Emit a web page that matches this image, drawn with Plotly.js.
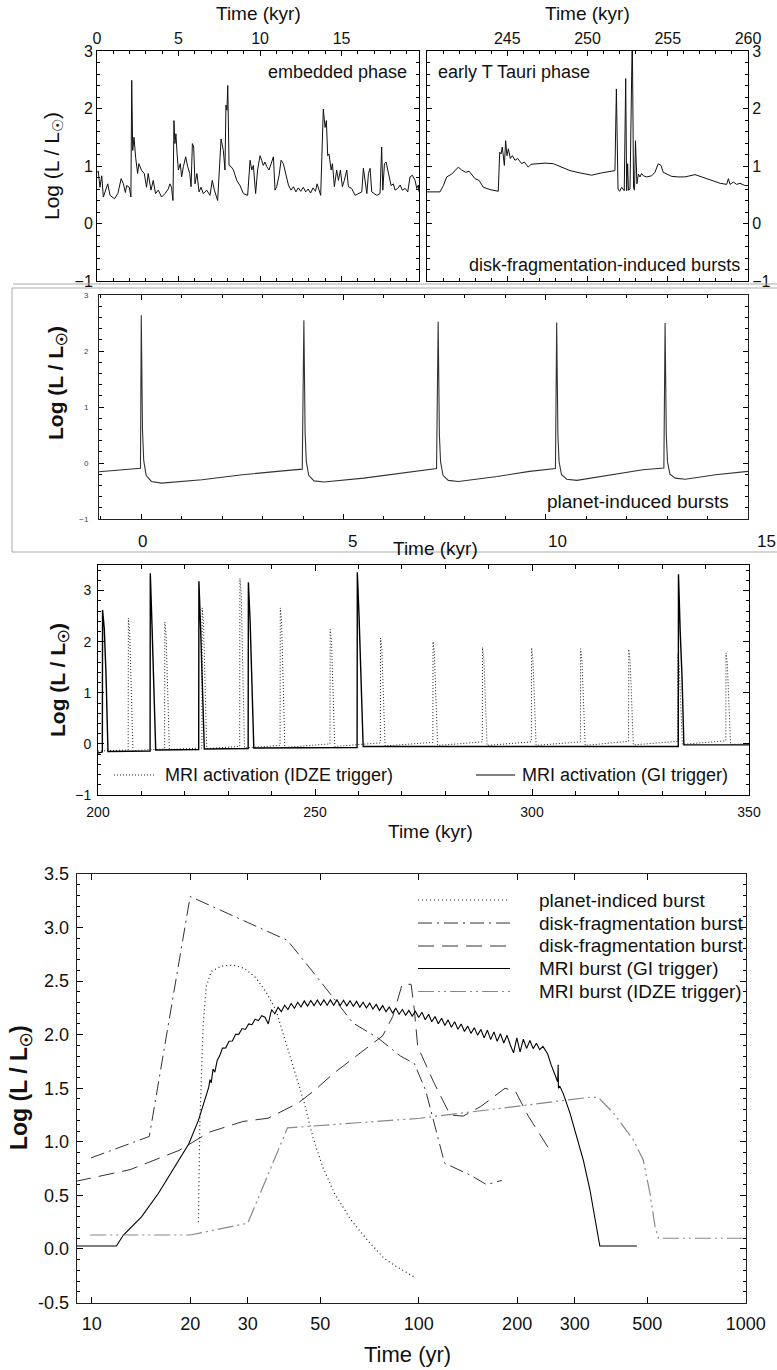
<!DOCTYPE html>
<html><head><meta charset="utf-8">
<script src="https://cdn.plot.ly/plotly-3.0.1.min.js"></script>
<style>html,body{margin:0;padding:0;background:#fff}#chart{width:777px;height:1370px}</style>
</head><body><div id="chart"></div>
<script>
// ---------- Panel 1: embedded phase ----------
const embTime = [0.00,0.08,0.18,0.29,0.39,0.49,0.66,0.80,1.07,1.28,1.48,1.62,1.74,1.82,1.98,2.08,2.13,2.19,2.27,2.37,2.49,2.57,2.74,2.90,3.04,3.14,3.31,3.45,3.59,3.76,3.96,4.17,4.37,4.47,4.57,4.66,4.72,4.78,4.84,4.91,4.99,5.11,5.19,5.30,5.44,5.56,5.69,5.77,5.85,5.93,6.01,6.13,6.26,6.38,6.52,6.73,6.93,7.07,7.20,7.40,7.61,7.75,7.85,7.91,7.97,8.02,8.10,8.22,8.37,8.57,8.77,8.98,9.24,9.39,9.49,9.59,9.73,9.85,10.00,10.10,10.20,10.30,10.41,10.55,10.67,10.82,10.92,11.02,11.17,11.29,11.43,11.58,11.74,11.90,12.05,12.20,12.35,12.50,12.65,12.80,12.95,13.10,13.25,13.40,13.50,13.60,13.72,13.88,13.99,14.07,14.15,14.23,14.36,14.44,14.56,14.70,14.81,14.93,15.05,15.17,15.32,15.42,15.62,15.83,16.03,16.24,16.34,16.44,16.55,16.65,16.75,16.85,17.01,17.16,17.36,17.46,17.53,17.63,17.73,17.83,17.93,18.04,18.18,18.28,18.45,18.59,18.73,18.90,19.06,19.20,19.34,19.51,19.61,19.71,19.75];
const embLum  = [0.89,0.91,0.63,0.83,0.46,0.54,0.69,0.49,0.43,0.52,0.78,0.69,0.54,0.66,0.63,0.46,2.49,1.27,1.50,1.15,0.87,1.04,0.92,0.87,0.63,0.87,0.58,0.75,0.52,0.58,0.46,0.52,0.60,0.69,0.63,0.40,1.79,1.39,1.56,1.22,0.93,1.04,0.81,0.99,1.16,0.99,0.87,0.64,1.39,1.33,0.69,0.87,0.55,0.63,0.52,0.58,0.49,0.75,0.58,0.40,1.47,1.27,0.93,2.06,1.97,2.40,1.01,0.99,0.93,0.75,0.66,0.52,0.49,1.10,0.93,1.01,0.52,0.93,1.18,1.10,1.01,1.07,0.99,0.93,1.04,1.16,0.58,0.64,0.84,1.10,1.04,0.87,0.67,0.58,0.64,0.55,0.62,0.56,0.63,0.55,0.60,0.53,0.62,0.56,0.69,0.60,0.49,1.99,1.67,1.79,1.18,1.21,0.93,1.04,0.64,0.93,0.75,0.93,0.64,0.75,0.93,0.64,0.61,0.49,0.52,0.55,0.96,0.75,0.52,0.87,0.96,0.55,0.52,0.49,0.52,1.33,0.58,1.04,1.07,0.93,0.75,0.66,0.69,0.58,0.61,0.67,0.58,0.61,0.55,0.81,0.84,0.75,0.61,0.67,0.55];

// ---------- Panel 2: early T Tauri phase ----------
const ttTime = [240.00,240.81,241.02,241.23,241.54,241.74,241.95,242.16,242.41,242.62,242.78,242.99,243.24,243.51,243.93,244.44,244.53,244.61,244.69,244.82,244.90,244.98,245.07,245.19,245.32,245.48,245.65,245.90,246.06,246.31,246.48,246.83,247.35,247.87,248.39,248.91,249.53,250.26,250.88,251.40,251.71,251.80,251.90,252.00,252.13,252.29,252.38,252.44,252.50,252.55,252.65,252.79,252.87,252.93,252.99,253.08,253.17,253.27,253.37,253.48,253.69,254.00,254.20,254.41,254.58,254.72,254.93,255.24,255.66,256.07,256.70,257.12,257.74,258.26,258.67,258.78,258.88,259.09,259.29,259.50,259.81,260.00];
const ttLum  = [0.55,0.55,0.66,0.81,0.86,0.92,0.98,0.93,0.89,0.91,0.86,0.78,0.75,0.63,0.59,0.56,1.24,1.21,1.33,1.01,1.44,1.18,1.30,1.13,1.18,1.10,1.13,1.04,1.07,0.98,1.03,1.04,1.05,1.04,0.98,0.92,0.88,0.84,0.88,0.91,0.92,2.34,0.60,0.56,0.63,0.57,2.52,0.57,1.04,0.58,0.60,3.30,0.62,0.58,1.44,0.69,0.86,0.81,0.87,0.83,0.81,0.83,0.89,1.04,1.01,0.89,0.86,0.82,0.81,0.81,0.85,0.81,0.75,0.70,0.68,0.78,0.68,0.72,0.68,0.70,0.66,0.66];

// ---------- Panel 3: planet-induced bursts ----------
const planetTime = [-1.045,-0.02,0.00,0.03,0.06,0.12,0.25,0.50,1.50,2.50,3.50,3.98,4.02,4.05,4.08,4.14,4.27,4.52,5.50,6.50,7.30,7.34,7.37,7.40,7.46,7.59,7.84,8.80,9.60,10.24,10.27,10.30,10.33,10.39,10.52,10.77,11.70,12.40,12.92,12.95,12.98,13.01,13.07,13.20,13.45,14.20,15.00];
const planetLum  = [-0.155,-0.095,2.64,0.60,0.05,-0.22,-0.33,-0.36,-0.30,-0.21,-0.14,-0.11,2.55,0.55,0.03,-0.22,-0.32,-0.34,-0.27,-0.17,-0.10,2.52,0.50,0.02,-0.22,-0.31,-0.33,-0.24,-0.15,-0.10,2.51,0.50,0.02,-0.21,-0.29,-0.31,-0.20,-0.12,-0.09,2.50,0.50,0.02,-0.20,-0.27,-0.29,-0.21,-0.15];

// ---------- Panel 4: MRI activation ----------
const idzeTime = [200.00,206.95,207.00,207.30,208.05,215.35,215.40,215.70,216.45,223.95,224.00,224.30,225.05,232.65,232.70,233.00,233.75,241.95,242.00,242.30,243.05,253.45,253.50,253.80,254.55,265.05,265.10,265.40,266.15,277.15,277.20,277.50,278.25,288.55,288.60,288.90,289.65,299.85,299.90,300.20,300.95,311.15,311.20,311.50,312.25,322.25,322.30,322.60,323.35,333.55,333.60,333.90,334.65,344.65,344.70,345.00,345.75,350.00];
const idzeLum  = [-0.14,-0.12,2.46,2.20,-0.13,-0.10,2.38,2.12,-0.11,-0.08,2.66,2.40,-0.09,-0.05,3.24,2.95,-0.08,-0.03,2.66,2.40,-0.07,0.00,2.24,2.00,-0.05,0.02,2.07,1.85,-0.04,0.03,2.00,1.78,-0.03,0.04,1.89,1.68,-0.03,0.04,1.88,1.67,-0.03,0.04,1.86,1.65,-0.03,0.05,1.85,1.64,-0.02,0.05,1.75,1.55,-0.01,0.06,1.78,1.58,-0.01,0.00];
const giTime = [200.0,201.0,201.05,201.45,201.85,202.3,212.0,212.05,212.45,212.85,213.3,223.2,223.25,223.65,224.05,224.5,234.6,234.65,235.05,235.45,235.9,259.7,259.75,260.15,260.6,261.1,333.7,333.75,334.15,334.55,335.0,350.0];
const giLum  = [-0.18,-0.16,2.62,2.25,1.35,-0.15,-0.14,3.34,2.30,1.35,-0.12,-0.11,3.18,2.25,1.10,-0.10,-0.09,3.16,2.40,1.35,-0.08,-0.07,3.36,2.50,1.25,-0.05,-0.05,3.32,2.20,1.35,-0.02,-0.02];

// ---------- Panel 5: burst profiles (yr) ----------
const planetBurstT = [21.2,21.4,21.9,22.4,23.2,24.9,27.0,29.3,31.8,34.1,36.6,38.8,41.7,44.7,47.4,50.8,55.2,62.1,69.8,78.5,86.0,96.6];
const planetBurstL = [0.25,1.14,2.07,2.45,2.59,2.64,2.65,2.62,2.53,2.40,2.23,1.98,1.67,1.36,1.05,0.77,0.52,0.27,0.08,-0.09,-0.17,-0.26];
const fragAT = [9.95,15.0,20.0,39.7,50.0,62.9,75.0,88.0,97.0,105.0,120.0,143.6,161.4,179.5];
const fragAL = [0.85,1.05,3.29,2.88,2.50,2.11,1.97,1.80,1.73,1.48,0.80,0.69,0.60,0.64];
const fragBT = [8.9,13.1,18.5,22.9,29.0,34.6,42.7,48.0,55.0,65.9,77.6,83.3,89.0,94.8,97.0,99.3,111.0,124.8,136.8,154.8,183.7,197.7,216.4,252.0];
const fragBL = [0.63,0.74,0.92,1.09,1.19,1.22,1.36,1.48,1.64,1.82,1.99,2.17,2.47,2.47,2.23,1.89,1.56,1.25,1.24,1.33,1.50,1.47,1.24,0.92];
const mriGIT = [8.9,11.9,12.5,14.2,16.0,18.0,19.8,21.2,22.2,22.8,23.0,23.2,23.5,23.8,24.2,24.6,
  25.12,25.70,26.30,26.92,27.54,28.18,28.84,29.51,30.20,30.90,31.62,32.36,33.11,33.88,34.67,35.48,36.31,37.15,38.02,38.90,
  39.81,40.74,41.69,42.66,43.65,44.67,45.71,46.77,47.86,48.98,50.12,51.29,52.48,53.70,54.95,56.23,57.54,58.88,60.26,61.66,
  63.10,64.57,66.07,67.61,69.18,70.79,72.44,74.13,75.86,77.62,79.43,81.28,83.18,85.11,87.10,89.13,91.20,93.33,95.50,97.72,
  100.0,102.3,104.7,107.2,109.6,112.2,114.8,117.5,120.2,123.0,125.9,128.8,131.8,134.9,138.0,141.3,144.5,147.9,151.4,154.9,
  158.5,162.2,166.0,169.8,173.8,177.8,182.0,186.2,190.5,195.0,199.5,204.2,208.9,213.8,218.8,223.9,229.1,234.4,239.9,
  248.0,254.0,261.4,266.0,267.0,267.5,270.0,276.7,290.0,304.0,318.7,334.0,345.9,354.0,358.0,464.6];
const mriGIL = [0.027,0.027,0.13,0.30,0.52,0.77,0.98,1.20,1.39,1.51,1.58,1.55,1.68,1.65,1.76,1.80,
  1.875,1.877,1.939,1.941,2.003,2.005,2.057,2.049,2.101,2.093,2.145,2.131,2.177,2.163,2.10,2.235,2.195,2.255,2.215,2.275,
  2.235,2.291,2.247,2.303,2.259,2.315,2.267,2.319,2.271,2.323,2.275,2.325,2.275,2.325,2.275,2.325,2.273,2.321,2.269,2.317,
  2.265,2.311,2.257,2.303,2.249,2.295,2.239,2.283,2.227,2.271,2.215,2.259,2.203,2.247,2.191,2.235,2.181,2.227,2.173,2.219,
  2.160,2.210,2.140,2.190,2.120,2.170,2.102,2.154,2.086,2.138,2.070,2.120,2.050,2.100,2.030,2.080,2.012,2.064,1.996,2.048,
  1.970,2.042,1.954,2.026,1.938,2.010,1.922,1.994,1.906,1.83,1.970,1.84,1.958,1.872,1.946,1.870,1.920,1.860,1.890,
  1.82,1.72,1.61,1.56,1.72,1.50,1.52,1.45,1.27,1.05,0.83,0.55,0.30,0.11,0.027,0.027];
const mriIDZET = [9.9,20.0,30.0,39.7,101.0,342.0,358.0,393.7,453.0,486.0,509.6,528.0,540.8,1000.0];
const mriIDZEL = [0.13,0.13,0.24,1.13,1.22,1.42,1.40,1.27,1.02,0.83,0.52,0.21,0.10,0.10];

const legendNames5 = ['planet-indiced burst','disk-fragmentation burst','disk-fragmentation burst','MRI burst (GI trigger)','MRI burst (IDZE trigger)'];
const legendNames4 = ['MRI activation (IDZE trigger)','MRI activation (GI trigger)'];
const ticks5y = [-0.5,0,0.5,1,1.5,2,2.5,3,3.5];
const ticks5yText = ['-0.5','0.0','0.5','1.0','1.5','2.0','2.5','3.0','3.5'];
const ticks5x = [10,20,30,50,100,200,300,500,1000];
const ticks3Labels = ['0','5','10','15'];

// ---------- layout helpers ----------
const W=777,H=1370;
const px=x=>x/W, py=y=>1-y/H;
const FONT='Liberation Sans, Arial, Helvetica, sans-serif';
const YT='Log (L / L<sub>☉</sub>)';
function ax(o){
  return Object.assign({showline:true,linecolor:'#000',linewidth:1,mirror:'allticks',ticks:'inside',
    tickcolor:'#000',tickwidth:1,ticklen:5,showgrid:false,zeroline:false,fixedrange:true,automargin:false,
    tickfont:{family:FONT,size:16,color:'#111'}},o);
}
function mn(dt,t0,len){return {ticks:'inside',ticklen:len||3,dtick:dt,tick0:t0||0,tickcolor:'#000',showgrid:false};}

const traces=[
 {x:embTime,y:embLum,xaxis:'x',yaxis:'y',mode:'lines',line:{color:'#111',width:1}},
 {x:ttTime,y:ttLum,xaxis:'x2',yaxis:'y2',mode:'lines',line:{color:'#111',width:1}},
 {x:planetTime,y:planetLum,xaxis:'x3',yaxis:'y3',mode:'lines',line:{color:'#333',width:1.1}},
 {x:idzeTime,y:idzeLum,xaxis:'x4',yaxis:'y4',mode:'lines',line:{color:'#222',width:1,dash:'1px,2px'}},
 {x:giTime,y:giLum,xaxis:'x4',yaxis:'y4',mode:'lines',line:{color:'#000',width:1.4}},
 {x:planetBurstT,y:planetBurstL,xaxis:'x5',yaxis:'y5',mode:'lines',line:{color:'#222',width:1.2,dash:'1px,3px'}},
 {x:fragAT,y:fragAL,xaxis:'x5',yaxis:'y5',mode:'lines',line:{color:'#333',width:1,dash:'14px,5px,2px,5px'}},
 {x:fragBT,y:fragBL,xaxis:'x5',yaxis:'y5',mode:'lines',line:{color:'#333',width:1,dash:'16px,8px'}},
 {x:mriGIT,y:mriGIL,xaxis:'x5',yaxis:'y5',mode:'lines',line:{color:'#000',width:1.1}},
 {x:mriIDZET,y:mriIDZEL,xaxis:'x5',yaxis:'y5',mode:'lines',line:{color:'#888',width:1.2,dash:'16px,4px,2px,4px,2px,4px'}}
].map(t=>Object.assign(t,{showlegend:false,hoverinfo:'skip'}));

function ann(text,x,y,size,o){
  return Object.assign({text:text,x:px(x),y:py(y),xref:'paper',yref:'paper',showarrow:false,
    font:{family:FONT,size:size,color:'#111'},xanchor:'center',yanchor:'middle'},o||{});
}
const anns=[
 ann('Time (kyr)',258,13,19),
 ann('Time (kyr)',587,14,19),
 ann('embedded phase',409,72,18,{xanchor:'right'}),
 ann('early T Tauri phase',436,72,18,{xanchor:'left'}),
 ann('disk-fragmentation-induced bursts',742,265,18,{xanchor:'right'}),
 ann(YT,53,166,21,{textangle:-90}),
 ann('planet-induced bursts',731,502,19,{xanchor:'right'}),
 ann('<b>'+YT+'</b>',57,383,21,{textangle:-90}),
 ann(ticks3Labels[0],142,541,17), ann(ticks3Labels[1],352,541,17),
 ann(ticks3Labels[2],557,541,17), ann(ticks3Labels[3],766,541,17),
 ann('Time (kyr)',435,548,19),
 ann('<b>'+YT+'</b>',59,680,21,{textangle:-90}),
 ann(legendNames4[0],163,775,18,{xanchor:'left'}),
 ann(legendNames4[1],520,775,18,{xanchor:'left'}),
 ann('Time (kyr)',430,831,19),
 ann('<b>'+YT+'</b>',20,1088,23,{textangle:-90}),
 ann('Time (yr)',408,1354,22)
];
const legY5=[900,923,946,968.5,991.5];
legendNames5.forEach((n,i)=>anns.push(ann(n,537,legY5[i],19,{xanchor:'left'})));

function ln(x0,y0,x1,y1,color,width,dash){
  return {type:'line',xref:'paper',yref:'paper',x0:px(x0),y0:py(y0),x1:px(x1),y1:py(y1),
    line:{color:color,width:width,dash:dash||'solid'}};
}
const shapes=[
 ln(13,284,777,284,'#aaa',1),
 ln(12,288,777,288,'#aaa',1),
 ln(12,288,12,552,'#aaa',1),
 ln(12,552,777,552,'#aaa',1),
 ln(114,775,156,775,'#222',1,'1px,2px'),
 ln(476,775,515,775,'#000',1.2),
 ln(418,legY5[0],510,legY5[0],'#222',1.2,'1px,3px'),
 ln(418,legY5[1],510,legY5[1],'#333',1,'14px,5px,2px,5px'),
 ln(418,legY5[2],510,legY5[2],'#333',1,'16px,8px'),
 ln(418,legY5[3],510,legY5[3],'#000',1.1),
 ln(418,legY5[4],510,legY5[4],'#888',1.2,'16px,4px,2px,4px,2px,4px')
];

const layout={
 width:W,height:H,margin:{l:0,r:0,t:0,b:0},paper_bgcolor:'#fff',plot_bgcolor:'#fff',showlegend:false,
 font:{family:FONT,color:'#111'},
 xaxis: ax({domain:[px(97),px(419)],range:[0,19.75],side:'top',anchor:'y',tickvals:[0,5,10,15],minor:mn(1,0)}),
 yaxis: ax({domain:[py(281),py(51)],range:[-1,3],anchor:'x',tickvals:[-1,0,1,2,3],minor:mn(0.2,0)}),
 xaxis2:ax({domain:[px(427),px(748)],range:[240,260],side:'top',anchor:'y2',tickvals:[245,250,255,260],minor:mn(1,0)}),
 yaxis2:ax({domain:[py(281),py(51)],range:[-1,3],side:'right',anchor:'x2',tickvals:[-1,0,1,2,3],minor:mn(0.2,0)}),
 xaxis3:ax({domain:[px(99),px(748)],range:[-1.045,15],anchor:'y3',tickvals:[0,5,10,15],showticklabels:false,linecolor:'#222',minor:mn(1,0)}),
 yaxis3:ax({domain:[py(519),py(295)],range:[-1,3],anchor:'x3',tickvals:[-1,0,1,2,3],linecolor:'#222',
   tickfont:{family:FONT,size:8,color:'#444'},ticklabelstandoff:8,minor:mn(0.2,0)}),
 xaxis4:ax({domain:[px(98),px(749)],range:[200,350],anchor:'y4',tickvals:[200,250,300,350],ticklen:6,
   tickfont:{family:FONT,size:14,color:'#111'},ticklabelstandoff:4,minor:mn(10,200,4)}),
 yaxis4:ax({domain:[py(795),py(565)],range:[-1,3.5],anchor:'x4',tickvals:[-1,0,1,2,3],ticklen:6,
   tickfont:{family:FONT,size:14,color:'#111'},ticklabelstandoff:3,minor:mn(0.2,0)}),
 xaxis5:ax({type:'log',domain:[px(77),px(745.7)],range:[0.955,3.0],anchor:'y5',tickvals:ticks5x,ticktext:ticks5x.map(String),
   ticklen:6,linewidth:1.3,linecolor:'#222',tickfont:{family:FONT,size:18,color:'#111'},ticklabelstandoff:5}),
 yaxis5:ax({domain:[py(1302.5),py(874)],range:[-0.5,3.5],anchor:'x5',tickvals:ticks5y,ticktext:ticks5yText,
   ticklen:6,linewidth:1.3,linecolor:'#222',tickfont:{family:FONT,size:18,color:'#111'},ticklabelstandoff:3,minor:mn(0.1,0,3)}),
 annotations:anns,
 shapes:shapes
};
Plotly.newPlot('chart',traces,layout,{staticPlot:true,displayModeBar:false});
</script></body></html>
